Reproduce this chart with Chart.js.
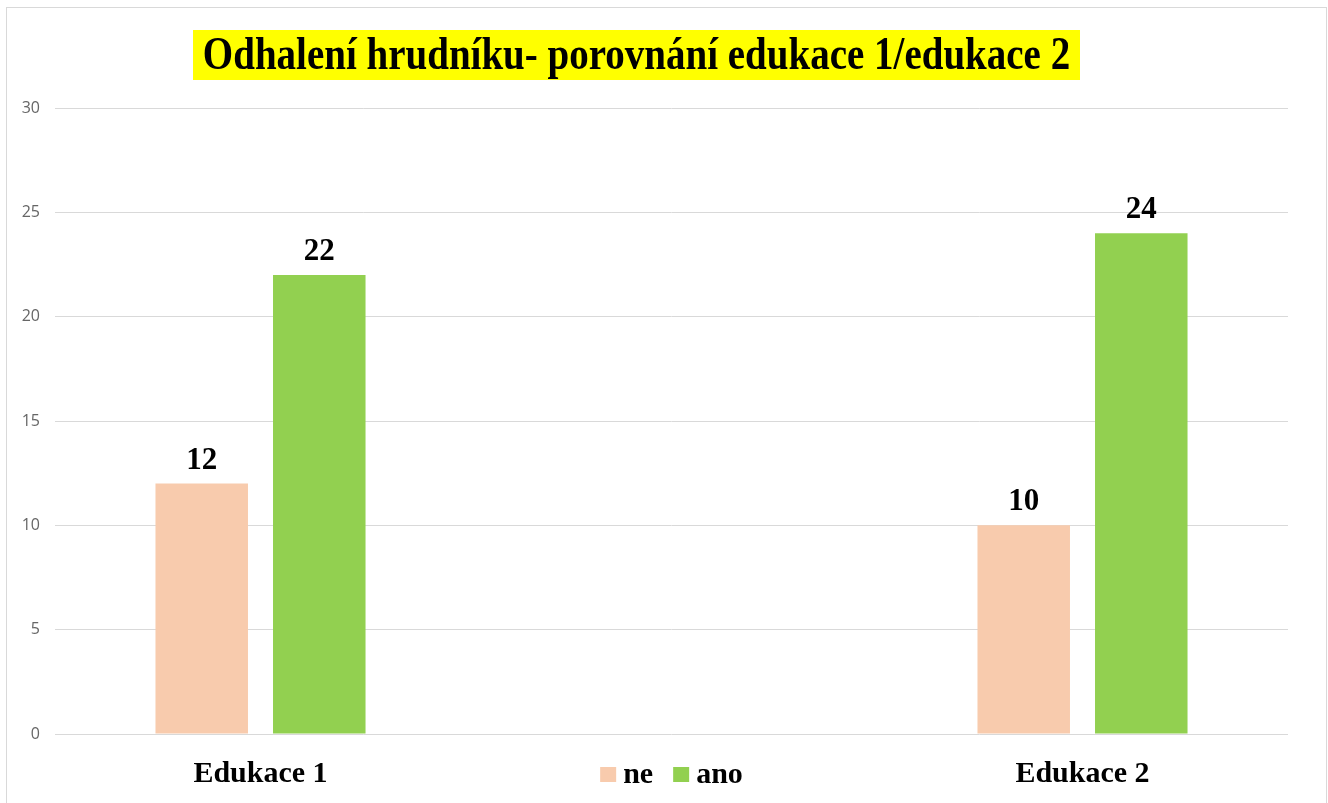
<!DOCTYPE html>
<html>
<head>
<meta charset="utf-8">
<style>
  html, body { margin: 0; padding: 0; background: #fff; }
  #wrap { position: relative; width: 1328px; height: 803px; }
</style>
<script src="https://cdn.jsdelivr.net/npm/chart.js@4/dist/chart.umd.min.js"></script>
</head>
<body>
<div id="wrap"><canvas id="main-chart" width="1328" height="803"></canvas></div>
<script>
// data
const categories = ['Edukace 1', '', 'Edukace 2'];
const neValues = [12, null, 10];
const anoValues = [22, null, 24];
const seriesNames = ['ne', 'ano'];
const titleText = 'Odhalení hrudníku- porovnání edukace 1/edukace 2';

const serif = '"Liberation Serif", "Times New Roman", serif';

// yellow title box + frame
const titlePlugin = {
	id: 'boxTitle',
	beforeDraw(chart) {
		const ctx = chart.ctx;
		ctx.save();
		ctx.strokeStyle = '#d9d9d9';
		ctx.lineWidth = 1;
		ctx.strokeRect(6.5, 7.5, 1320, 820);
		ctx.fillStyle = '#ffff00';
		ctx.fillRect(193, 30, 887, 50);
		ctx.restore();
	},
	afterDraw(chart) {
		const ctx = chart.ctx;
		ctx.save();
		ctx.translate(636.5, 57);
		ctx.scale(1, 1.2);
		ctx.font = 'bold 39px ' + serif;
		ctx.fillStyle = '#000';
		ctx.textAlign = 'center';
		ctx.textBaseline = 'middle';
		ctx.fillText(titleText, 0, 0);
		ctx.restore();
	}
};

// value labels above bars
const labelPlugin = {
	id: 'barLabels',
	afterDatasetsDraw(chart) {
		const ctx = chart.ctx;
		ctx.save();
		ctx.font = 'bold 31px ' + serif;
		ctx.fillStyle = '#000';
		ctx.textAlign = 'center';
		ctx.textBaseline = 'alphabetic';
		chart.data.datasets.forEach((ds, i) => {
			chart.getDatasetMeta(i).data.forEach((bar, j) => {
				if (ds.data[j] == null) return;
				ctx.fillText(ds.data[j], bar.x, bar.y - 15);
			});
		});
		ctx.restore();
	}
};

// legend sits in the empty middle category, on the tick label line
const legendPlugin = {
	id: 'midLegend',
	afterDraw(chart) {
		const ctx = chart.ctx;
		const x = chart.scales.x.getPixelForValue(1);
		ctx.save();
		ctx.font = 'bold 30px ' + serif;
		ctx.textBaseline = 'alphabetic';
		ctx.textAlign = 'left';
		const box = 16, gap = 7, spacing = 20;
		const widths = seriesNames.map(n => ctx.measureText(n).width);
		let total = 0;
		widths.forEach((w, i) => { total += box + gap + w + (i ? spacing : 0); });
		let cx = x - total / 2;
		chart.data.datasets.forEach((ds, i) => {
			if (i) cx += spacing;
			ctx.fillStyle = ds.backgroundColor;
			ctx.fillRect(cx, 767, box, 15);
			cx += box + gap;
			ctx.fillStyle = '#000';
			ctx.fillText(seriesNames[i], cx, 783);
			cx += widths[i];
		});
		ctx.restore();
	}
};

const chart = new Chart(document.getElementById('main-chart'), {
	type: 'bar',
	data: {
		labels: categories,
		datasets: [
			{ label: seriesNames[0], data: neValues, backgroundColor: '#f8cbad' },
			{ label: seriesNames[1], data: anoValues, backgroundColor: '#92d050' }
		]
	},
	options: {
		responsive: false,
		animation: false,
		categoryPercentage: 0.572,
		barPercentage: 0.787,
		layout: { padding: { left: 0, right: 40, top: 108, bottom: 9 } },
		plugins: {
			legend: { display: false },
			title: { display: false },
			tooltip: { enabled: false }
		},
		scales: {
			x: {
				grid: { display: false, drawTicks: false },
				border: { display: false },
				ticks: {
					color: '#000',
					padding: 22,
					font: { family: serif, size: 30, weight: 'bold' }
				},
				afterFit(scale) { scale.height = 60; }
			},
			y: {
				min: 0,
				max: 30,
				ticks: {
					stepSize: 5,
					color: '#666666',
					padding: 15,
					font: { family: '"Open Sans", sans-serif', size: 16 }
				},
				grid: { color: '#d9d9d9', lineWidth: 1, drawTicks: false },
				border: { display: false },
				afterFit(scale) { scale.width = 55; }
			}
		}
	},
	plugins: [titlePlugin, labelPlugin, legendPlugin]
});
</script>
</body>
</html>
